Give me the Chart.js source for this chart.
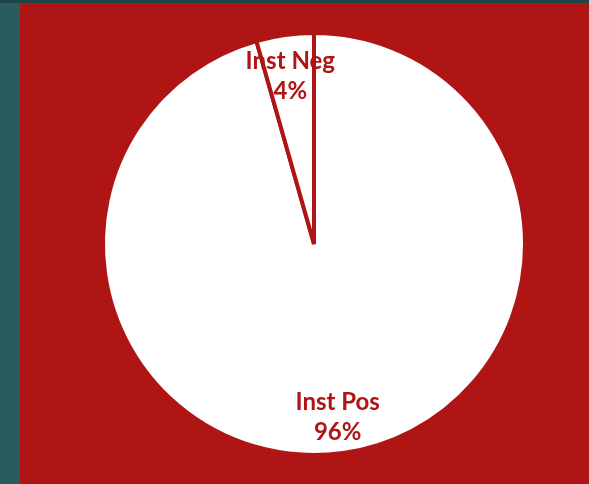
<!DOCTYPE html>
<html>
<head>
<meta charset="utf-8">
<script src="https://cdn.jsdelivr.net/npm/chart.js@4"></script>
<style>
  html, body { margin: 0; padding: 0; width: 589px; height: 484px; overflow: hidden; background: #2a5b5e; }
  #topbar { position: absolute; left: 0; top: 0; width: 589px; height: 3px; background: #1f4347; }
  #panel { position: absolute; left: 20px; top: 3px; width: 569px; height: 481px; background: #b01515; }
  #chart { position: absolute; left: 0; top: 0; }
</style>
</head>
<body>
<div id="topbar"></div>
<div id="panel"><canvas id="chart" width="569" height="481"></canvas></div>
<script>
// pie data
const labels = ['Inst Pos', 'Inst Neg'];
const values = [95.6, 4.4];
const pctLabels = ['96%', '4%'];

const red = '#b01515';

// draws the two-line labels inside each slice
const sliceLabels = {
    id: 'sliceLabels',
    afterDatasetsDraw(chart) {
        const ctx = chart.ctx;
        const arcs = chart.getDatasetMeta(0).data;
        ctx.save();
        ctx.fillStyle = red;
        ctx.font = 'bold 24px Lato, "DejaVu Sans", sans-serif';
        ctx.textAlign = 'center';
        ctx.textBaseline = 'middle';
        arcs.forEach((arc, i) => {
            const p = arc.getProps(['x', 'y', 'startAngle', 'endAngle', 'outerRadius'], true);
            const mid = (p.startAngle + p.endAngle) / 2;
            const r = p.outerRadius * 0.815;
            const cx = p.x + Math.cos(mid) * r;
            const cy = p.y + Math.sin(mid) * r + 3;
            ctx.fillText(labels[i], cx, cy - 15);
            ctx.fillText(pctLabels[i], cx, cy + 15);
        });
        ctx.restore();
    }
};

new Chart(document.getElementById('chart'), {
    type: 'pie',
    data: {
        labels: labels,
        datasets: [{
            data: values,
            backgroundColor: '#ffffff',
            borderColor: red,
            borderWidth: 4
        }]
    },
    options: {
        responsive: false,
        animation: false,
        radius: 211,
        layout: { padding: { left: 19, top: 1 } },
        plugins: {
            legend: { display: false },
            tooltip: { enabled: false }
        }
    },
    plugins: [sliceLabels]
});
</script>
</body>
</html>
